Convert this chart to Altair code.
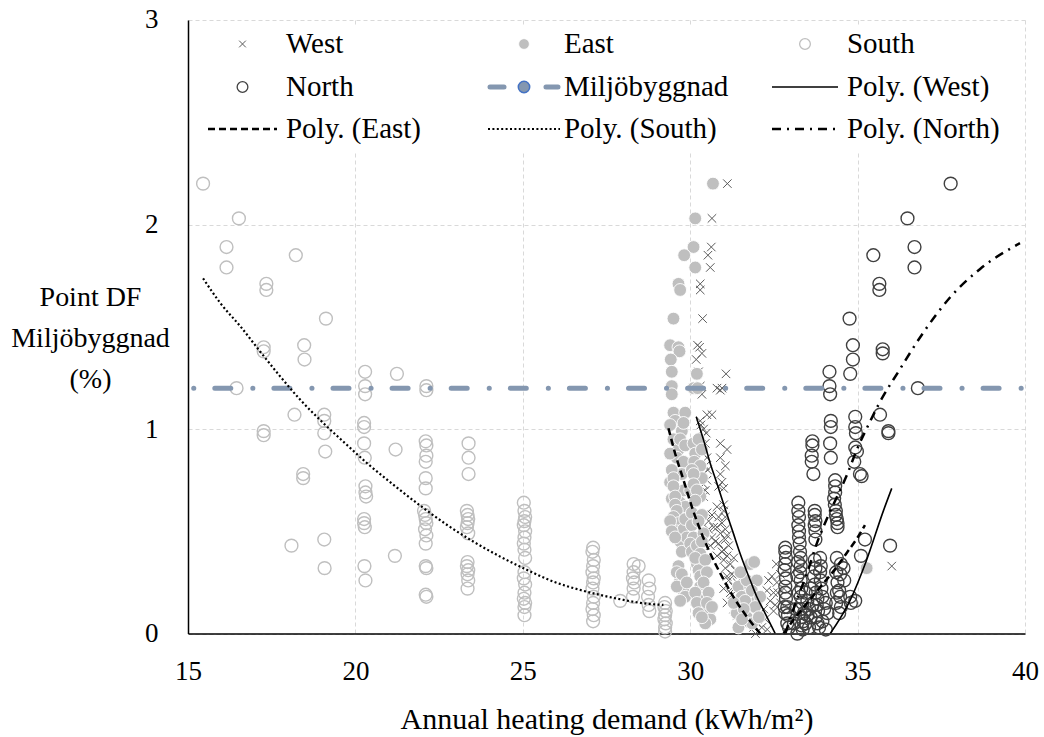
import altair as alt
import pandas as pd

FONT = "Liberation Serif"

# ---------------- data ----------------
south = [
    (15.45, 2.20), (16.52, 2.03), (16.15, 1.89), (16.15, 1.79), (18.22, 1.85), (17.34, 1.71), (17.34, 1.68),
    (19.12, 1.54), (17.26, 1.40), (17.26, 1.38), (18.47, 1.41), (18.48, 1.34), (16.45, 1.20),
    (20.29, 1.28), (20.29, 1.21), (20.29, 1.17), (21.24, 1.27), (22.12, 1.21), (22.12, 1.19),
    (18.18, 1.07), (19.07, 1.07), (19.07, 1.04), (19.07, 0.98), (19.10, 0.89), (17.26, 0.99), (17.26, 0.97),
    (20.26, 1.03), (20.26, 1.01), (20.26, 0.93), (20.28, 0.86), (21.20, 0.90),
    (22.10, 0.94), (22.12, 0.92), (22.12, 0.87), (22.10, 0.84), (23.38, 0.93), (23.38, 0.86), (23.38, 0.78),
    (18.44, 0.78), (18.44, 0.76), (20.30, 0.72), (20.30, 0.69), (20.32, 0.67), (22.10, 0.76), (22.10, 0.71),
    (20.26, 0.56), (20.26, 0.54), (20.28, 0.52),
    (22.05, 0.60), (22.08, 0.58), (22.10, 0.56), (22.12, 0.54), (22.08, 0.51), (22.12, 0.48), (22.10, 0.44),
    (23.33, 0.60), (23.35, 0.58), (23.37, 0.56), (23.35, 0.54), (23.33, 0.52), (23.37, 0.49),
    (25.03, 0.64), (25.05, 0.60), (25.07, 0.57), (25.05, 0.55), (25.03, 0.53), (25.07, 0.50), (25.05, 0.47),
    (25.03, 0.44), (25.05, 0.41), (25.07, 0.37),
    (18.09, 0.43), (19.07, 0.46), (19.08, 0.32), (21.18, 0.38), (20.27, 0.33), (20.30, 0.26),
    (22.10, 0.33), (22.12, 0.32), (22.10, 0.19), (22.12, 0.18),
    (23.35, 0.35), (23.33, 0.33), (23.37, 0.31), (23.35, 0.29), (23.37, 0.26), (23.35, 0.22),
    (25.05, 0.30), (25.03, 0.27), (25.07, 0.24), (25.05, 0.20), (25.03, 0.17), (25.07, 0.15), (25.05, 0.13), (25.05, 0.09),
    (27.10, 0.42), (27.08, 0.40), (27.12, 0.36), (27.10, 0.33), (27.08, 0.30), (27.12, 0.27), (27.10, 0.25),
    (27.08, 0.22), (27.12, 0.18), (27.10, 0.15), (27.08, 0.12), (27.12, 0.09), (27.10, 0.06),
    (27.91, 0.16),
    (28.31, 0.34), (28.46, 0.33), (28.31, 0.30), (28.29, 0.27), (28.33, 0.25), (28.31, 0.22), (28.29, 0.18),
    (28.76, 0.26), (28.78, 0.22), (28.74, 0.18), (28.76, 0.14), (28.78, 0.11),
    (29.25, 0.15), (29.23, 0.13), (29.27, 0.11), (29.25, 0.09), (29.23, 0.07), (29.27, 0.05), (29.25, 0.03), (29.25, 0.01),
]

east = [
    (30.68, 2.20), (30.15, 2.03), (30.10, 1.89), (29.82, 1.85), (30.15, 1.79), (29.65, 1.71), (29.70, 1.68),
    (29.50, 1.54), (29.40, 1.41), (29.65, 1.40), (29.68, 1.38), (29.42, 1.34), (29.45, 1.28), (30.20, 1.27),
    (29.45, 1.21), (29.45, 1.17), (30.10, 1.20), (30.22, 1.20),
    (29.50, 1.08), (29.85, 1.08), (29.55, 1.04), (29.75, 0.99), (29.50, 0.95), (29.65, 0.90), (29.60, 0.86),
    (29.40, 1.02), (29.80, 1.03), (29.70, 0.95), (29.85, 0.92), (29.40, 0.88), (29.80, 0.84),
    (29.40, 0.74), (29.75, 0.78), (29.80, 0.70), (29.45, 0.66), (29.70, 0.64), (29.85, 0.62),
    (30.10, 0.93), (30.15, 0.88), (30.12, 0.84),
    (30.25, 0.95), (30.35, 0.90), (30.30, 0.82), (30.05, 0.80), (30.35, 0.76), (30.30, 0.67), (30.00, 0.70),
    (29.45, 0.80), (29.50, 0.76), (29.50, 0.72), (29.55, 0.67), (29.55, 0.63), (29.60, 0.60),
    (30.10, 0.78), (30.10, 0.73), (30.20, 0.70), (30.15, 0.65),
    (29.50, 0.57), (29.65, 0.54), (29.60, 0.50), (29.80, 0.51), (29.70, 0.45), (29.75, 0.40),
    (29.40, 0.55), (29.45, 0.50), (29.85, 0.56), (29.90, 0.47), (29.55, 0.47),
    (30.05, 0.59), (30.05, 0.53), (30.10, 0.47), (30.00, 0.44), (30.05, 0.40),
    (30.35, 0.58), (30.25, 0.55), (30.40, 0.49), (30.20, 0.43), (30.35, 0.45),
    (30.30, 0.39), (30.20, 0.34), (30.25, 0.31), (30.30, 0.28),
    (29.65, 0.33), (29.70, 0.26), (29.80, 0.21), (29.85, 0.18),
    (29.60, 0.30), (29.75, 0.29), (29.60, 0.23), (29.90, 0.25), (29.70, 0.16),
    (30.30, 0.23), (30.35, 0.18), (30.40, 0.13), (30.55, 0.10), (30.60, 0.07), (30.45, 0.05),
    (30.15, 0.37), (30.45, 0.36), (30.50, 0.30), (30.40, 0.25), (30.15, 0.20), (30.55, 0.20),
    (30.20, 0.15), (30.50, 0.15), (30.25, 0.10), (30.65, 0.13), (30.35, 0.08),
    (31.79, 0.34), (31.91, 0.35), (31.44, 0.23), (31.79, 0.23), (31.54, 0.18), (31.99, 0.16), (31.39, 0.10),
    (31.69, 0.08), (31.44, 0.03),
    (31.69, 0.26), (31.99, 0.26), (31.84, 0.21), (32.09, 0.18), (31.64, 0.16), (31.94, 0.13),
    (31.50, 0.30), (31.60, 0.12), (31.85, 0.05), (32.05, 0.08), (31.30, 0.15), (31.55, 0.07),
    (35.27, 0.32),
]

west = [
    (31.11, 2.20), (30.65, 2.03), (30.63, 1.89), (30.53, 1.85), (30.60, 1.79), (30.30, 1.71), (30.30, 1.68),
    (30.37, 1.54), (30.22, 1.41), (30.28, 1.40), (30.35, 1.37), (30.18, 1.34), (31.07, 1.27), (30.25, 1.28),
    (30.80, 1.20), (30.95, 1.20), (30.90, 1.19), (30.30, 1.21), (30.35, 1.17),
    (30.50, 1.07), (30.65, 1.07), (30.30, 1.04), (30.40, 1.00), (30.35, 0.96), (30.45, 0.93), (30.35, 0.90),
    (30.50, 0.86), (30.45, 0.82), (30.40, 0.78), (30.40, 0.73), (30.45, 0.70), (30.40, 0.67),
    (30.32, 1.02), (30.48, 0.98), (30.38, 0.88), (30.52, 0.80), (30.32, 0.76), (30.50, 0.75), (30.35, 0.69),
    (30.90, 0.93), (31.10, 0.90), (30.90, 0.86), (30.90, 0.78), (30.95, 0.74), (31.00, 0.71),
    (31.05, 0.82), (30.85, 0.72),
    (31.00, 0.63), (31.00, 0.60), (30.85, 0.57), (30.95, 0.54), (31.05, 0.51), (30.90, 0.49), (31.05, 0.46),
    (30.80, 0.62), (31.05, 0.57), (30.80, 0.52), (31.10, 0.48), (30.85, 0.44), (31.00, 0.41), (30.80, 0.38),
    (30.65, 0.58), (30.70, 0.52), (30.75, 0.45), (30.60, 0.43),
    (31.15, 0.43), (30.95, 0.40), (31.10, 0.38), (31.20, 0.34), (31.05, 0.32), (31.25, 0.29), (31.15, 0.26),
    (31.30, 0.23), (31.20, 0.20), (31.35, 0.16), (31.50, 0.13), (31.69, 0.08), (31.89, 0.03),
    (31.00, 0.36), (31.30, 0.37), (31.35, 0.31), (31.10, 0.28), (31.40, 0.25), (31.00, 0.22), (31.25, 0.19),
    (31.45, 0.20), (31.10, 0.15), (31.30, 0.12), (31.55, 0.22), (31.60, 0.16), (31.40, 0.09), (31.58, 0.05),
    (30.50, 0.59), (30.55, 0.55), (30.55, 0.51), (30.65, 0.47),
    (32.34, 0.26), (32.44, 0.28), (32.59, 0.25), (32.29, 0.21), (32.49, 0.20), (32.39, 0.16), (32.54, 0.14),
    (32.09, 0.10), (32.24, 0.07), (32.49, 0.11), (32.14, 0.03), (32.69, 0.29), (32.57, 0.34), (32.80, 0.22),
    (32.70, 0.15), (32.62, 0.20), (31.80, 0.14), (32.00, 0.05), (32.20, 0.12), (31.95, 0.00), (32.30, 0.02),
    (36.02, 0.33),
]

north = [
    (37.78, 2.20), (36.49, 2.03), (36.70, 1.89), (36.70, 1.79), (35.47, 1.85), (35.65, 1.71), (35.65, 1.68),
    (34.76, 1.54), (34.86, 1.41), (34.86, 1.34), (34.78, 1.27), (35.75, 1.39), (35.75, 1.37),
    (34.16, 1.28), (34.16, 1.21), (34.18, 1.17), (36.80, 1.20), (35.67, 1.07), (35.92, 0.99), (35.92, 0.98),
    (34.93, 1.06), (34.93, 1.01), (34.95, 0.98), (34.93, 0.91), (34.98, 0.89), (34.90, 0.84),
    (34.20, 1.04), (34.20, 1.01), (34.18, 0.93), (34.20, 0.86),
    (33.65, 0.94), (33.65, 0.92), (33.63, 0.87), (33.63, 0.84), (33.68, 0.78),
    (35.07, 0.78), (35.12, 0.77),
    (34.33, 0.75), (34.33, 0.72), (34.33, 0.69), (34.30, 0.66), (34.32, 0.63),
    (34.35, 0.60), (34.35, 0.58), (34.38, 0.56), (34.40, 0.54), (34.40, 0.52),
    (33.72, 0.60), (33.72, 0.58), (33.74, 0.55), (33.72, 0.53), (33.74, 0.50), (33.74, 0.46),
    (33.23, 0.64), (33.23, 0.60), (33.25, 0.57), (33.23, 0.53), (33.25, 0.50), (33.25, 0.47), (33.27, 0.44),
    (32.84, 0.42), (32.84, 0.40), (32.86, 0.37), (32.84, 0.34), (32.86, 0.27), (32.84, 0.23),
    (32.82, 0.31), (32.84, 0.20), (32.86, 0.17), (32.82, 0.13), (32.84, 0.10),
    (35.22, 0.46), (35.10, 0.38), (35.97, 0.43), (34.93, 0.16), (34.78, 0.18), (34.80, 0.15),
    (34.50, 0.34), (34.58, 0.32), (34.60, 0.26),
    (33.28, 0.40), (33.30, 0.37), (33.30, 0.33), (33.28, 0.30), (33.30, 0.26), (33.32, 0.22),
    (33.22, 0.35), (33.20, 0.28), (33.24, 0.20),
    (33.88, 0.37), (33.90, 0.33), (33.88, 0.30), (33.90, 0.26), (33.92, 0.22),
    (33.72, 0.36), (33.74, 0.32), (33.70, 0.28), (33.72, 0.24),
    (34.38, 0.37), (34.36, 0.30), (34.40, 0.25), (34.38, 0.20), (34.36, 0.15),
    (34.48, 0.29), (34.45, 0.21), (34.48, 0.18), (34.50, 0.13), (34.45, 0.10),
    (33.30, 0.18), (33.35, 0.15), (33.30, 0.12), (33.40, 0.10), (33.32, 0.08), (33.38, 0.06), (33.33, 0.04),
    (33.36, 0.02), (33.45, 0.05),
    (33.75, 0.20), (33.80, 0.17), (33.78, 0.14), (33.82, 0.11), (33.75, 0.08), (33.80, 0.05), (33.85, 0.03),
    (32.90, 0.13), (32.92, 0.09), (32.90, 0.05), (32.95, 0.03),
    (33.55, 0.12), (33.60, 0.08), (34.05, 0.15), (34.10, 0.10),
    (33.10, 0.05), (33.15, 0.12), (33.50, 0.16), (33.55, 0.03), (33.65, 0.14), (33.95, 0.06), (34.00, 0.12),
    (33.45, 0.20), (33.60, 0.22), (33.95, 0.18), (34.05, 0.02), (33.20, 0.00), (33.50, 0.09),
]

# Miljöbyggnad requirement level and its horizontal extent
miljo_level = 1.2
miljo_extent = (15, 40)

# Polynomial trend lines
poly_south = [(15.45, 1.737), (15.97, 1.615), (16.57, 1.501), (17.16, 1.378), (17.76, 1.256), (18.36, 1.142),
              (19.05, 1.028), (19.75, 0.922), (20.35, 0.833), (21.14, 0.727), (22.04, 0.613), (22.74, 0.531),
              (23.53, 0.449), (24.33, 0.376), (25.13, 0.311), (25.92, 0.254), (26.72, 0.213), (27.31, 0.189),
              (27.91, 0.168), (28.51, 0.150), (29.20, 0.140)]
poly_east_left = [(29.35, 1.004), (29.55, 0.881), (29.80, 0.751), (30.05, 0.620), (30.30, 0.506), (30.60, 0.392),
                  (30.90, 0.294), (31.29, 0.180), (31.69, 0.083), (32.09, 0.0)]
poly_east_right = [(32.79, 0.0), (33.10, 0.07), (33.50, 0.15), (33.90, 0.23), (34.30, 0.31), (34.70, 0.40),
                   (35.00, 0.47), (35.22, 0.53)]
poly_west_left = [(30.18, 1.06), (30.40, 0.946), (30.60, 0.832), (30.80, 0.734), (30.99, 0.637), (31.29, 0.490),
                  (31.49, 0.392), (31.79, 0.262), (31.99, 0.180), (32.19, 0.115), (32.54, 0.0)]
poly_west_right = [(34.18, 0.0), (34.78, 0.164), (35.27, 0.36), (35.77, 0.60), (36.02, 0.71)]
poly_north = [(32.84, 0.0), (33.18, 0.164), (33.48, 0.29), (33.78, 0.44), (34.08, 0.56), (34.33, 0.65),
              (34.68, 0.775), (34.98, 0.90), (35.37, 1.036), (35.62, 1.118), (36.25, 1.289), (36.96, 1.471),
              (37.76, 1.643), (38.66, 1.783), (39.85, 1.909)]

legend_labels = ["West", "East", "South", "North", "Miljöbyggnad", "Poly. (West)",
                 "Poly. (East)", "Poly. (South)", "Poly. (North)"]


def pts(rows):
    return pd.DataFrame(rows, columns=["x", "y"])


def segs(*parts):
    frames = []
    for i, p in enumerate(parts):
        d = pts(p)
        d["seg"] = i
        frames.append(d)
    return pd.concat(frames, ignore_index=True)


# ---------------- scales & axes ----------------
xs = alt.Scale(domain=[15, 40], nice=False, zero=False)
ys = alt.Scale(domain=[0, 3], nice=False, zero=True)

common_axis = dict(
    grid=True, gridColor="#D9D9D9", gridDash=[4, 3], gridWidth=1,
    domainColor="black", domainWidth=1.5, ticks=False, tickSize=0,
    labelFont=FONT, labelFontSize=27, labelColor="black",
    titleFont=FONT, titleColor="black", titleFontWeight="normal",
)
x_axis = alt.Axis(values=[15, 20, 25, 30, 35, 40], title="Annual heating demand (kWh/m²)",
                  labelPadding=25, titleY=86, titleBaseline="middle", titleAnchor="middle",
                  titleFontSize=30, labelFlush=False, **common_axis)
y_axis = alt.Axis(values=[0, 1, 2, 3], title=["Point DF", "Miljöbyggnad", "(%)"],
                  labelPadding=30, titleAngle=0, titleX=-98, titleY=278, titleAlign="center",
                  titleBaseline="middle", titleLineHeight=41, titleFontSize=28, labelFlush=False,
                  **common_axis)

X = alt.X("x:Q", scale=xs, axis=x_axis)
Y = alt.Y("y:Q", scale=ys, axis=y_axis)

XSHAPE = "M-1,-1L1,1M-1,1L1,-1"
CSIZE = 165

west_layer = alt.Chart(pts(west)).mark_point(
    shape=XSHAPE, size=72, filled=False, stroke="#595959", strokeWidth=1, opacity=1
).encode(x=X, y=Y)
east_layer = alt.Chart(pts(east)).mark_point(
    shape="circle", size=CSIZE, filled=True, fill="#BFBFBF", stroke="white", strokeWidth=0.9, opacity=1
).encode(x=X, y=Y)
south_layer = alt.Chart(pts(south)).mark_point(
    shape="circle", size=CSIZE, filled=False, stroke="#BFBFBF", strokeWidth=1.4, opacity=1
).encode(x=X, y=Y)
north_layer = alt.Chart(pts(north)).mark_point(
    shape="circle", size=CSIZE, filled=False, stroke="#404040", strokeWidth=1.4, opacity=1
).encode(x=X, y=Y)

miljo_df = pd.DataFrame({"x": [miljo_extent[0]], "x2": [miljo_extent[1]], "y": [miljo_level]})
miljo_layer = alt.Chart(miljo_df).mark_rule(
    color="#8497B0", strokeWidth=5, strokeCap="round", strokeDash=[16, 22, 0.1, 21], strokeDashOffset=32.3
).encode(x=X, x2="x2:Q", y=Y)


def trend(df, dash, width):
    kw = dict(color="black", strokeWidth=width, interpolate="monotone", clip=True)
    if dash:
        kw["strokeDash"] = dash
    return alt.Chart(df).mark_line(**kw).encode(x=X, y=Y, detail="seg:N")


south_trend = trend(segs(poly_south), [2, 2.4], 2.2)
east_trend = trend(segs(poly_east_left, poly_east_right), [7, 4], 2.5)
west_trend = trend(segs(poly_west_left, poly_west_right), None, 1.6)
north_trend = trend(segs(poly_north), [9, 6, 2, 6], 2.5)

main = alt.layer(west_layer, east_layer, south_layer, north_layer, miljo_layer,
                 west_trend, east_trend, south_trend, north_trend)

# ---------------- legend (pixel layout inside the plot area) ----------------
col_text = [98, 376, 659]
col_key = [(20, 89), (300, 372), (584, 650)]
row_y = [24, 67, 109]

LX = lambda f: alt.X(f, scale=None, axis=None)
LY = lambda f: alt.Y(f, scale=None, axis=None)

leg_text_df = pd.DataFrame({
    "label": legend_labels,
    "lx": [col_text[i % 3] for i in range(9)],
    "ly": [row_y[i // 3] for i in range(9)],
})


def key_mid(c):
    return (col_key[c][0] + col_key[c][1]) / 2


bg = alt.Chart(pd.DataFrame({"lx": [2], "lx2": [834], "ly": [5], "ly2": [131]})).mark_rect(
    fill="white").encode(x=LX("lx:Q"), x2="lx2:Q", y=LY("ly:Q"), y2="ly2:Q")

leg_text = alt.Chart(leg_text_df).mark_text(
    align="left", baseline="middle", font=FONT, fontSize=29, color="black"
).encode(x=LX("lx:Q"), y=LY("ly:Q"), text="label:N")


def sym(c, r, **style):
    return alt.Chart(pd.DataFrame({"lx": [key_mid(c)], "ly": [row_y[r]]})).mark_point(
        opacity=1, **style).encode(x=LX("lx:Q"), y=LY("ly:Q"))


def seg_line(x0, x1, r, **style):
    return alt.Chart(pd.DataFrame({"lx": [x0], "lx2": [x1], "ly": [row_y[r]]})).mark_rule(
        **style).encode(x=LX("lx:Q"), x2="lx2:Q", y=LY("ly:Q"))


leg_west = sym(0, 0, shape=XSHAPE, size=45, filled=False, stroke="#595959", strokeWidth=1)
leg_east = sym(1, 0, shape="circle", size=115, filled=True, fill="#BFBFBF", stroke="white", strokeWidth=0.8)
leg_south = sym(2, 0, shape="circle", size=115, filled=False, stroke="#BFBFBF", strokeWidth=1.3)
leg_north = sym(0, 1, shape="circle", size=115, filled=False, stroke="#404040", strokeWidth=1.3)
leg_m1 = seg_line(col_key[1][0] + 2, col_key[1][0] + 16, 1, color="#8497B0", strokeWidth=5, strokeCap="round")
leg_m2 = seg_line(col_key[1][1] - 14, col_key[1][1] - 2, 1, color="#8497B0", strokeWidth=5, strokeCap="round")
leg_m3 = sym(1, 1, shape="circle", size=130, filled=True, fill="#8497B0", stroke="#4472C4", strokeWidth=1.5)
leg_pw = seg_line(col_key[2][0], col_key[2][1], 1, color="black", strokeWidth=1.6)
leg_pe = seg_line(col_key[0][0], col_key[0][1], 2, color="black", strokeWidth=2.5, strokeDash=[7, 4])
leg_ps = seg_line(col_key[1][0], col_key[1][1], 2, color="black", strokeWidth=2.2, strokeDash=[2, 2.4])
leg_pn = seg_line(col_key[2][0], col_key[2][1], 2, color="black", strokeWidth=2.5, strokeDash=[9, 6, 2, 6])

legend = alt.layer(bg, leg_west, leg_east, leg_south, leg_north, leg_m1, leg_m2, leg_m3,
                   leg_pw, leg_pe, leg_ps, leg_pn, leg_text)

chart = alt.layer(main, legend).resolve_scale(x="independent", y="independent").properties(
    width=837, height=613.6,
    padding={"left": 188, "top": 20, "right": 19, "bottom": 103},
    autosize=alt.AutoSizeParams(type="none"),
    background="white",
).configure_view(stroke=None)

chart.save("out.html", embed_options={"renderer": "svg", "actions": False})
